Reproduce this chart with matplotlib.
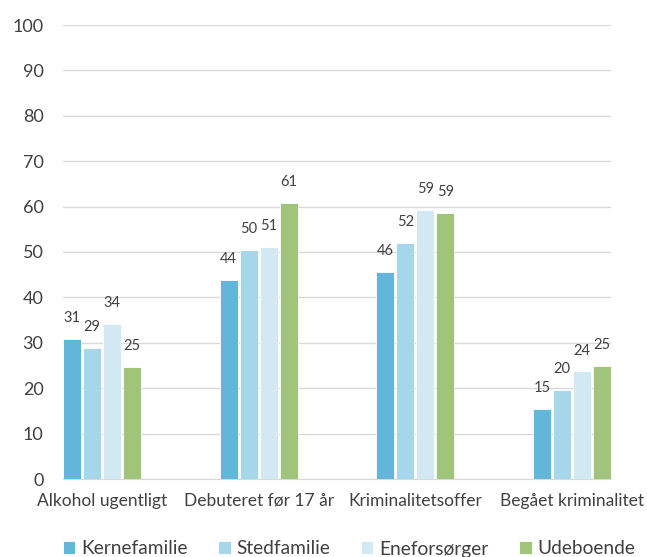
import numpy as np
import matplotlib
matplotlib.use("Agg")
import matplotlib.pyplot as plt

plt.rcParams['font.family'] = ['Lato', 'DejaVu Sans']

categories = ["Alkohol ugentligt", "Debuteret før 17 år", "Kriminalitetsoffer", "Begået kriminalitet"]
series_names = ["Kernefamilie", "Stedfamilie", "Eneforsørger", "Udeboende"]
kernefamilie = [30.8, 43.8, 45.7, 15.4]
stedfamilie = [28.8, 50.4, 52.0, 19.6]
eneforsorger = [34.1, 51.1, 59.3, 23.7]
udeboende = [24.6, 60.9, 58.7, 25.0]
y_ticks = [0, 10, 20, 30, 40, 50, 60, 70, 80, 90, 100]

colors = ["#62B6D9", "#A5D6E9", "#D2E9F4", "#A1C47B"]
text_col = "#404040"

fig = plt.figure(figsize=(6.47, 5.57), dpi=100)
ax = fig.add_axes([63 / 647, 1 - 479 / 557, 548 / 647, 454 / 557])

step = 0.1277
bw = 0.115
x = np.arange(len(categories))
all_series = [kernefamilie, stedfamilie, eneforsorger, udeboende]
for j, (vals, name) in enumerate(zip(all_series, series_names)):
    xs = x + j * step + bw / 2
    ax.bar(xs, vals, width=bw, color=colors[j], edgecolor="white",
           linewidth=0.6, label=name, zorder=3)
    for xi, v in zip(xs, vals):
        ax.annotate(f"{v:.0f}", (xi, v), xytext=(0, 15), textcoords="offset points",
                    ha="center", va="center", fontsize=10.5, color=text_col)

ax.set_xlim(0, 3 + 3 * step + bw)
ax.set_ylim(0, 100)
ax.set_yticks(y_ticks)
ax.yaxis.grid(True, color="#D9D9D9", linewidth=1, zorder=0)
ax.set_axisbelow(True)
ax.set_xticks(x + (3 * step + bw) / 2)
ax.set_xticklabels(categories)
ax.tick_params(axis="both", length=0, colors=text_col)
ax.tick_params(axis="y", labelsize=13, pad=14)
ax.tick_params(axis="x", labelsize=12.5, pad=10)
for s in ["top", "right", "left"]:
    ax.spines[s].set_visible(False)
ax.spines["bottom"].set_color("#D9D9D9")

fig.legend(loc="center", bbox_to_anchor=(349 / 647, 1 - 549 / 557), ncol=4,
           frameon=False, fontsize=13.8, handlelength=0.65, handleheight=0.65,
           handletextpad=0.3, columnspacing=1.6, labelcolor=text_col)

fig.savefig("out.png", dpi=100)
